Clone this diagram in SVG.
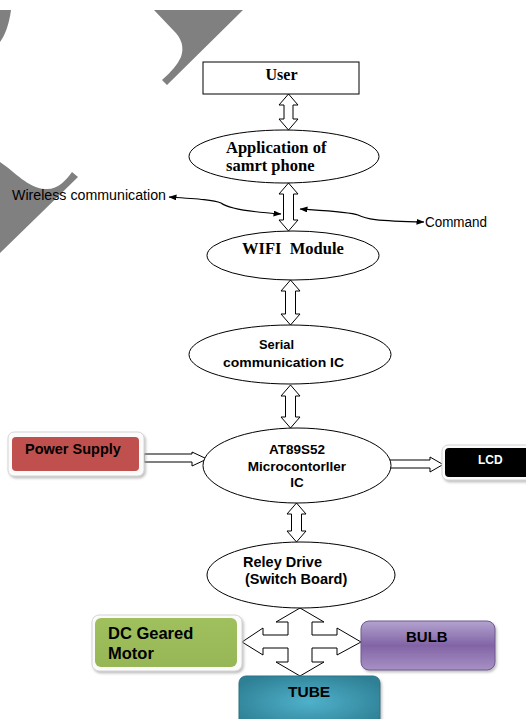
<svg xmlns="http://www.w3.org/2000/svg" width="526" height="719" viewBox="0 0 526 719">
<style>
.bg{fill:#ffffff}
.wm{fill:#808080}
.shape{fill:#ffffff;stroke:#000000;stroke-width:1}
.blk{fill:#ffffff;stroke:#000000;stroke-width:1;stroke-linejoin:miter}
.conn{fill:none;stroke:#000000;stroke-width:1.1}
.serif{font-family:"Liberation Serif","Times New Roman",serif;font-weight:bold;fill:#000}
.sans{font-family:"Liberation Sans",Arial,sans-serif;font-weight:bold;fill:#000}
.lab{font-family:"Liberation Sans",Arial,sans-serif;font-size:14px;fill:#000}
.glow{fill:#fbfbfb;stroke:#d4d4d4;stroke-width:1}
</style>
<defs>
<marker id="ah" viewBox="0 0 8 6" refX="7.5" refY="3" markerWidth="8" markerHeight="6" markerUnits="userSpaceOnUse" orient="auto-start-reverse">
<path d="M0,0 L8,3 L0,6 Z" fill="#000"/>
</marker>
<linearGradient id="bulbG" x1="0" y1="0" x2="0" y2="1">
<stop offset="0" stop-color="#b3a3cf"/>
<stop offset="0.5" stop-color="#8264a6"/>
<stop offset="1" stop-color="#a791c4"/>
</linearGradient>
<radialGradient id="tubeG" cx="0.5" cy="0.5" r="0.6">
<stop offset="0" stop-color="#4fb1ca"/>
<stop offset="1" stop-color="#2e8095"/>
</radialGradient>
<linearGradient id="greenG" x1="0" y1="0" x2="0" y2="1">
<stop offset="0" stop-color="#a0c05e"/>
<stop offset="1" stop-color="#97b655"/>
</linearGradient>
<filter id="sh" x="-10%" y="-10%" width="130%" height="140%">
<feDropShadow dx="1.5" dy="2" stdDeviation="1" flood-color="#999999" flood-opacity="0.6"/>
</filter>
</defs>
<rect class="bg" x="0" y="0" width="526" height="719"/>

<g id="watermark">
<path class="wm" d="M0,10 L11,10 C9,25 5,35 0,42 Z"/>
<path class="wm" d="M154,10 L243,10 L167,85 L162,80 Q176,68 181,57 Q186,42 173,30 Z"/>
<path class="wm" d="M0,162 C15,172 28,188 45,189 C58,190 66,180 72,172 L78,177 L0,253 Z"/>
</g>

<g id="connectors">
<polygon class="blk" points="288.5,94 298,105 293,105 293,119 298,119 288.5,130 279,119 284,119 284,105 279,105"/>
<polygon class="blk" points="288.5,183 298,194 293.5,194 293.5,220 298,220 288.5,231 279,220 283.5,220 283.5,194 279,194"/>
<polygon class="blk" points="290.5,280 300,291 295.5,291 295.5,314 300,314 290.5,325 281,314 285.5,314 285.5,291 281,291"/>
<polygon class="blk" points="290.5,385 300,396 295.5,396 295.5,417 300,417 290.5,428 281,417 285.5,417 285.5,396 281,396"/>
<polygon class="blk" points="296.5,503 306,514 301.5,514 301.5,531 306,531 296.5,542 287,531 291.5,531 291.5,514 287,514"/>
<polygon class="blk" points="144,454 192,454 192,452 207,459 192,466 192,462 144,462"/>
<polygon class="blk" points="387,460 430,460 430,457 443,464.5 430,472 430,468 387,468"/>
<polygon class="blk" points="300,608 324,622 312,622 312,635 337,635 337,628 361,642 337,655 337,648 312,648 312,662 324,662 300,676 276,662 288,662 288,648 263,648 263,655 242,642 263,628 263,635 288,635 288,622 276,622"/>
<path class="conn" d="M169,197 C200,199 214,200 221,203 C229,209 250,212 281,214" marker-start="url(#ah)" marker-end="url(#ah)"/>
<path class="conn" d="M300,209 C330,211 350,212 358,215 C366,219 374,221 424,222" marker-start="url(#ah)" marker-end="url(#ah)"/>
</g>

<g id="user">
<rect class="shape" x="203" y="62" width="156" height="32"/>
<text class="serif" x="281.5" y="79.5" font-size="16" text-anchor="middle">User</text>
</g>

<g id="app">
<ellipse class="shape" cx="284" cy="156.5" rx="95" ry="26.5"/>
<text class="serif" x="226" y="153" font-size="16.5">Application of</text>
<text class="serif" x="226" y="170.5" font-size="16.5">samrt phone</text>
</g>

<g id="wireless-label">
<text class="lab" x="12" y="200" textLength="154" lengthAdjust="spacingAndGlyphs">Wireless communication</text>
</g>
<g id="command-label">
<text class="lab" x="425" y="227" textLength="62" lengthAdjust="spacingAndGlyphs">Command</text>
</g>

<g id="wifi">
<ellipse class="shape" cx="293" cy="255.5" rx="86" ry="24.5"/>
<text class="serif" x="293" y="254" font-size="16.5" text-anchor="middle" xml:space="preserve">WIFI  Module</text>
</g>

<g id="serial">
<ellipse class="shape" cx="290" cy="354.5" rx="101" ry="29.5"/>
<text class="sans" x="259" y="349" font-size="13" textLength="35" lengthAdjust="spacingAndGlyphs">Serial</text>
<text class="sans" x="223" y="367" font-size="13" textLength="121" lengthAdjust="spacingAndGlyphs">communication IC</text>
</g>

<g id="mcu">
<ellipse class="shape" cx="297" cy="465.5" rx="94" ry="37.5"/>
<text class="sans" x="297" y="454" font-size="13.5" text-anchor="middle">AT89S52</text>
<text class="sans" x="297" y="471" font-size="13.5" text-anchor="middle">Microcontorller</text>
<text class="sans" x="297" y="487" font-size="13.5" text-anchor="middle">IC</text>
</g>

<g id="power">
<rect class="glow" x="8" y="432" width="136" height="44" rx="6" filter="url(#sh)"/>
<rect x="12" y="437" width="127" height="34" rx="4" fill="#c0504d"/>
<text class="sans" x="25" y="454" font-size="14.5">Power Supply</text>
</g>

<g id="lcd">
<rect class="glow" x="442" y="445" width="95" height="35" rx="6" filter="url(#sh)"/>
<rect x="445" y="448" width="90" height="29" rx="4" fill="#000000"/>
<text class="sans" x="478" y="464" font-size="12" style="fill:#ffffff">LCD</text>
</g>

<g id="relay">
<ellipse class="shape" cx="301" cy="575" rx="94" ry="33"/>
<text class="sans" x="243" y="567" font-size="14.5">Reley Drive</text>
<text class="sans" x="245" y="584" font-size="14.5">(Switch Board)</text>
</g>

<g id="motor">
<rect class="glow" x="92" y="615" width="150" height="56" rx="7" filter="url(#sh)"/>
<rect x="95" y="618" width="142" height="49" rx="6" fill="url(#greenG)"/>
<text class="sans" x="108" y="639" font-size="16.5">DC Geared</text>
<text class="sans" x="108" y="659" font-size="16.5">Motor</text>
</g>

<g id="bulb">
<rect x="361" y="621" width="134" height="49" rx="8" fill="url(#bulbG)" stroke="#6e5891" stroke-width="1" filter="url(#sh)"/>
<text class="sans" x="406" y="642" font-size="15">BULB</text>
</g>

<g id="tube">
<rect x="239" y="676" width="141" height="52" rx="7" fill="url(#tubeG)" stroke="#2b7385" stroke-width="1" filter="url(#sh)"/>
<text class="sans" x="288" y="697" font-size="15.5">TUBE</text>
</g>
</svg>
